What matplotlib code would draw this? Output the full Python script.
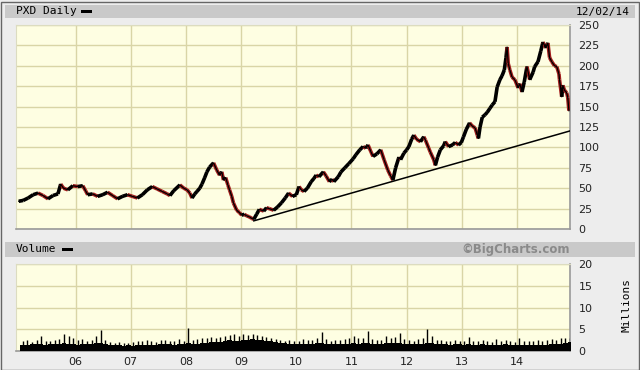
import numpy as np
import matplotlib
matplotlib.use("Agg")
import matplotlib.pyplot as plt
from matplotlib.collections import LineCollection
from matplotlib.patches import Rectangle

# prix PXD (annee decimale, dollars)
dates = [2004.97, 2005.05, 2005.14, 2005.23, 2005.32, 2005.41, 2005.50, 2005.59, 2005.68, 2005.73,
         2005.78, 2005.86, 2005.95, 2006.04, 2006.13, 2006.18, 2006.22, 2006.31, 2006.40, 2006.49,
         2006.58, 2006.67, 2006.76, 2006.85, 2006.94, 2007.03, 2007.12, 2007.21, 2007.30, 2007.39,
         2007.48, 2007.57, 2007.66, 2007.71, 2007.78, 2007.89, 2007.96, 2008.02, 2008.07, 2008.11,
         2008.16, 2008.20, 2008.25, 2008.29, 2008.34, 2008.38, 2008.43, 2008.50, 2008.56, 2008.61,
         2008.65, 2008.68, 2008.72, 2008.76, 2008.79, 2008.83, 2008.86, 2008.92, 2008.97, 2009.01,
         2009.06, 2009.10, 2009.15, 2009.19, 2009.23, 2009.28, 2009.33, 2009.41, 2009.46, 2009.51,
         2009.59, 2009.66, 2009.73, 2009.80, 2009.86, 2009.93, 2010.00, 2010.05, 2010.09, 2010.14,
         2010.20, 2010.27, 2010.32, 2010.36, 2010.41, 2010.49, 2010.54, 2010.60, 2010.65, 2010.68,
         2010.76, 2010.81, 2010.88, 2010.95, 2011.03, 2011.08, 2011.15, 2011.21, 2011.26, 2011.30,
         2011.35, 2011.39, 2011.46, 2011.53, 2011.59, 2011.66, 2011.71, 2011.75, 2011.80, 2011.86,
         2011.89, 2011.95, 2012.00, 2012.04, 2012.09, 2012.13, 2012.18, 2012.25, 2012.31, 2012.34,
         2012.40, 2012.43, 2012.49, 2012.52, 2012.56, 2012.61, 2012.67, 2012.70, 2012.76, 2012.83,
         2012.88, 2012.94, 2012.99, 2013.03, 2013.08, 2013.14, 2013.19, 2013.24, 2013.28, 2013.30,
         2013.33, 2013.37, 2013.42, 2013.46, 2013.51, 2013.55, 2013.60, 2013.64, 2013.69, 2013.73,
         2013.77, 2013.80, 2013.82, 2013.84, 2013.87, 2013.91, 2013.96, 2014.02, 2014.05, 2014.09,
         2014.13, 2014.18, 2014.23, 2014.29, 2014.32, 2014.38, 2014.43, 2014.47, 2014.52, 2014.56,
         2014.59, 2014.63, 2014.68, 2014.72, 2014.76, 2014.77, 2014.81, 2014.83, 2014.86, 2014.90,
         2014.92, 2014.94]
prix = [34, 35, 38, 42, 44, 41, 37, 41, 43, 55,
        50, 48, 53, 52, 53, 47, 42, 43, 40, 42,
        45, 41, 37, 40, 42, 40, 38, 42, 48, 52,
        49, 46, 43, 41, 47, 54, 50, 48, 44, 38,
        43, 46, 50, 55, 63, 70, 76, 81, 72, 66,
        70, 60, 63, 54, 48, 40, 32, 23, 20, 17,
        18, 16, 15, 13, 12, 18, 24, 22, 26, 25,
        23, 27, 32, 38, 44, 40, 42, 52, 48, 46,
        50, 58, 62, 66, 64, 70, 65, 58, 61, 58,
        64, 70, 75, 80, 86, 91, 97, 101, 99, 103,
        95, 89, 92, 97, 85, 72, 65, 60, 75, 88,
        85, 93, 97, 101, 110, 115, 110, 107, 113, 109,
        99, 94, 85, 78, 88, 97, 102, 107, 101, 103,
        106, 103, 106, 113, 122, 130, 126, 124, 115, 111,
        125, 137, 140, 143, 148, 152, 156, 174, 183, 188,
        195, 210, 223, 203, 195, 186, 183, 173, 178, 168,
        180, 199, 183, 192, 199, 205, 218, 229, 222, 228,
        210, 205, 200, 199, 190, 183, 162, 176, 170, 167,
        161, 145]

# ligne de tendance
tendance_x = [2009.23, 2014.95]
tendance_y = [10, 120]

# volume mensuel (millions), de janvier 2005 a decembre 2014
vol_base = [1.3, 1.4, 1.5, 1.5, 1.6, 1.4, 1.5, 1.6, 1.7, 1.8, 1.7, 1.5,
            1.4, 1.5, 1.6, 1.5, 1.8, 1.9, 1.6, 1.4, 1.3, 1.3, 1.2, 1.3,
            1.2, 1.3, 1.4, 1.3, 1.4, 1.3, 1.5, 1.6, 1.5, 1.4, 1.6, 1.5,
            1.8, 1.6, 1.7, 1.8, 1.9, 2.0, 2.0, 2.1, 2.2, 2.5, 2.3, 2.4,
            2.5, 2.6, 2.7, 2.6, 2.5, 2.3, 2.2, 2.0, 1.9, 1.8, 1.7, 1.6,
            1.5, 1.6, 1.5, 1.5, 1.8, 1.9, 1.6, 1.5, 1.5, 1.6, 1.6, 1.7,
            1.8, 1.7, 1.8, 1.9, 1.7, 1.6, 1.6, 1.9, 1.8, 1.8, 1.9, 1.7,
            1.6, 1.5, 1.6, 1.7, 1.8, 1.9, 1.6, 1.5, 1.5, 1.4, 1.5, 1.5,
            1.4, 1.5, 1.3, 1.4, 1.5, 1.3, 1.3, 1.4, 1.4, 1.5, 1.3, 1.3,
            1.3, 1.4, 1.3, 1.3, 1.4, 1.3, 1.4, 1.5, 1.6, 1.7, 1.9, 2.1]
vol_pic = [2.2, 2.5, 2.0, 2.6, 3.5, 2.2, 2.4, 2.6, 2.8, 3.9, 3.4, 3.0,
           2.5, 2.8, 2.4, 2.6, 3.4, 4.8, 2.6, 2.0, 1.9, 2.0, 1.8, 1.9,
           2.0, 2.2, 2.4, 2.6, 2.3, 2.1, 2.6, 2.5, 2.4, 2.2, 2.7, 2.4,
           5.4, 2.6, 2.8, 2.9, 3.0, 3.2, 3.0, 3.2, 3.4, 3.6, 3.8, 3.5,
           3.8, 3.7, 3.9, 3.6, 3.4, 3.2, 3.0, 2.8, 2.6, 2.4, 2.6, 2.3,
           2.4, 2.8, 2.5, 2.6, 3.0, 4.4, 2.8, 2.4, 2.6, 2.5, 2.7, 3.0,
           3.5, 2.9, 3.0, 4.6, 2.8, 2.5, 2.6, 3.4, 3.0, 3.2, 4.2, 2.8,
           2.6, 2.4, 2.8, 3.0, 5.1, 3.4, 2.6, 2.5, 2.4, 2.3, 2.6, 2.4,
           2.4, 3.3, 2.2, 2.4, 2.6, 2.2, 2.1, 2.8, 2.3, 2.6, 2.2, 2.0,
           3.1, 2.4, 2.2, 2.3, 2.5, 2.3, 2.6, 2.8, 2.6, 2.9, 3.1, 3.0]

annees = [2006, 2007, 2008, 2009, 2010, 2011, 2012, 2013, 2014]
etiquettes = ['06', '07', '08', '09', '10', '11', '12', '13', '14']

xmin, xmax = 2004.92, 2014.96
fond = '#fefee2'
grille = '#d9d5a6'
police = 'DejaVu Sans'

fig = plt.figure(figsize=(6.4, 3.7), dpi=100, facecolor='#ededed')

# bandeaux gris
fig.add_artist(Rectangle((5/640, 1-18/370), 630/640, 13/370, transform=fig.transFigure,
                         facecolor='#c9c9c9', edgecolor='none'))
fig.add_artist(Rectangle((5/640, 1-257/370), 630/640, 15/370, transform=fig.transFigure,
                         facecolor='#c9c9c9', edgecolor='none'))
fig.add_artist(Rectangle((0.5/640, 0.5/370), 638/640, 368/370, transform=fig.transFigure,
                         facecolor='none', edgecolor='#666666', lw=1.0))

fig.text(16/640, 1-11.5/370, 'PXD Daily', fontsize=8, family='DejaVu Sans Mono', va='center')
fig.add_artist(Rectangle((81/640, 1-13/370), 11/640, 3/370, transform=fig.transFigure,
                         facecolor='black', edgecolor='none'))
fig.text(630/640, 1-11.5/370, '12/02/14', fontsize=8, family='DejaVu Sans Mono', va='center', ha='right')
fig.text(16/640, 1-249.5/370, 'Volume', fontsize=8, family='DejaVu Sans Mono', va='center')
fig.add_artist(Rectangle((62/640, 1-251/370), 11/640, 3/370, transform=fig.transFigure,
                         facecolor='black', edgecolor='none'))
fig.text(570/640, 1-249.5/370, '\u00a9BigCharts.com', fontsize=8.5, family=police,
         fontweight='bold', color='#8a8a8a', va='center', ha='right')

# graphique des prix : barres rouges en baisse, noires en hausse
ax = fig.add_axes([16/640, 1-229/370, 554/640, 204/370], facecolor=fond)
pts = np.column_stack([dates, prix])
segs = np.stack([pts[:-1], pts[1:]], axis=1)
couleurs = ['#a01c1c' if prix[i+1] < prix[i] else 'black' for i in range(len(prix)-1)]
ax.add_collection(LineCollection(segs, colors=couleurs, linewidths=2.6, zorder=3))
ax.plot(dates, prix, color='black', lw=0.9, zorder=3.5)
ax.plot(tendance_x, tendance_y, color='black', lw=1.1, zorder=4)
ax.set_xlim(xmin, xmax)
ax.set_ylim(0, 250)
ax.set_yticks(range(0, 251, 25))
ax.set_xticks(annees)
ax.set_xticklabels([])

# graphique du volume
av = fig.add_axes([16/640, 1-351/370, 554/640, 87/370], facecolor=fond)
mois = 2005 + np.arange(len(vol_base)) / 12
av.fill_between(np.append(mois, mois[-1] + 1/12), 0, np.append(vol_base, vol_base[-1]),
                step='post', color='black', lw=0, zorder=3)
av.vlines(mois + 1/24, 0, vol_pic, color='black', lw=1, zorder=3)
av.set_xlim(xmin, xmax)
av.set_ylim(0, 20)
av.set_yticks([0, 5, 10, 15, 20])
av.set_xticks(annees)
av.set_xticklabels(etiquettes)
fig.text(627/640, 1-305/370, 'Millions', rotation=90, fontsize=8, family='DejaVu Sans Mono',
         va='center', ha='center')

for a in (ax, av):
    a.grid(True, color=grille, lw=1, zorder=0)
    a.set_axisbelow(True)
    a.yaxis.tick_right()
    a.tick_params(length=0, labelsize=8, pad=6, colors='#222222')
    a.tick_params(axis='x', pad=4)
    for lbl in a.get_xticklabels() + a.get_yticklabels():
        lbl.set_family(police)
    for s in ('top', 'left'):
        a.spines[s].set_color('#dcdcc0')
        a.spines[s].set_linewidth(0.8)
    for s in ('bottom', 'right'):
        a.spines[s].set_color('#999999')
        a.spines[s].set_linewidth(1.2)

fig.savefig('out.png', dpi=100, facecolor=fig.get_facecolor())
